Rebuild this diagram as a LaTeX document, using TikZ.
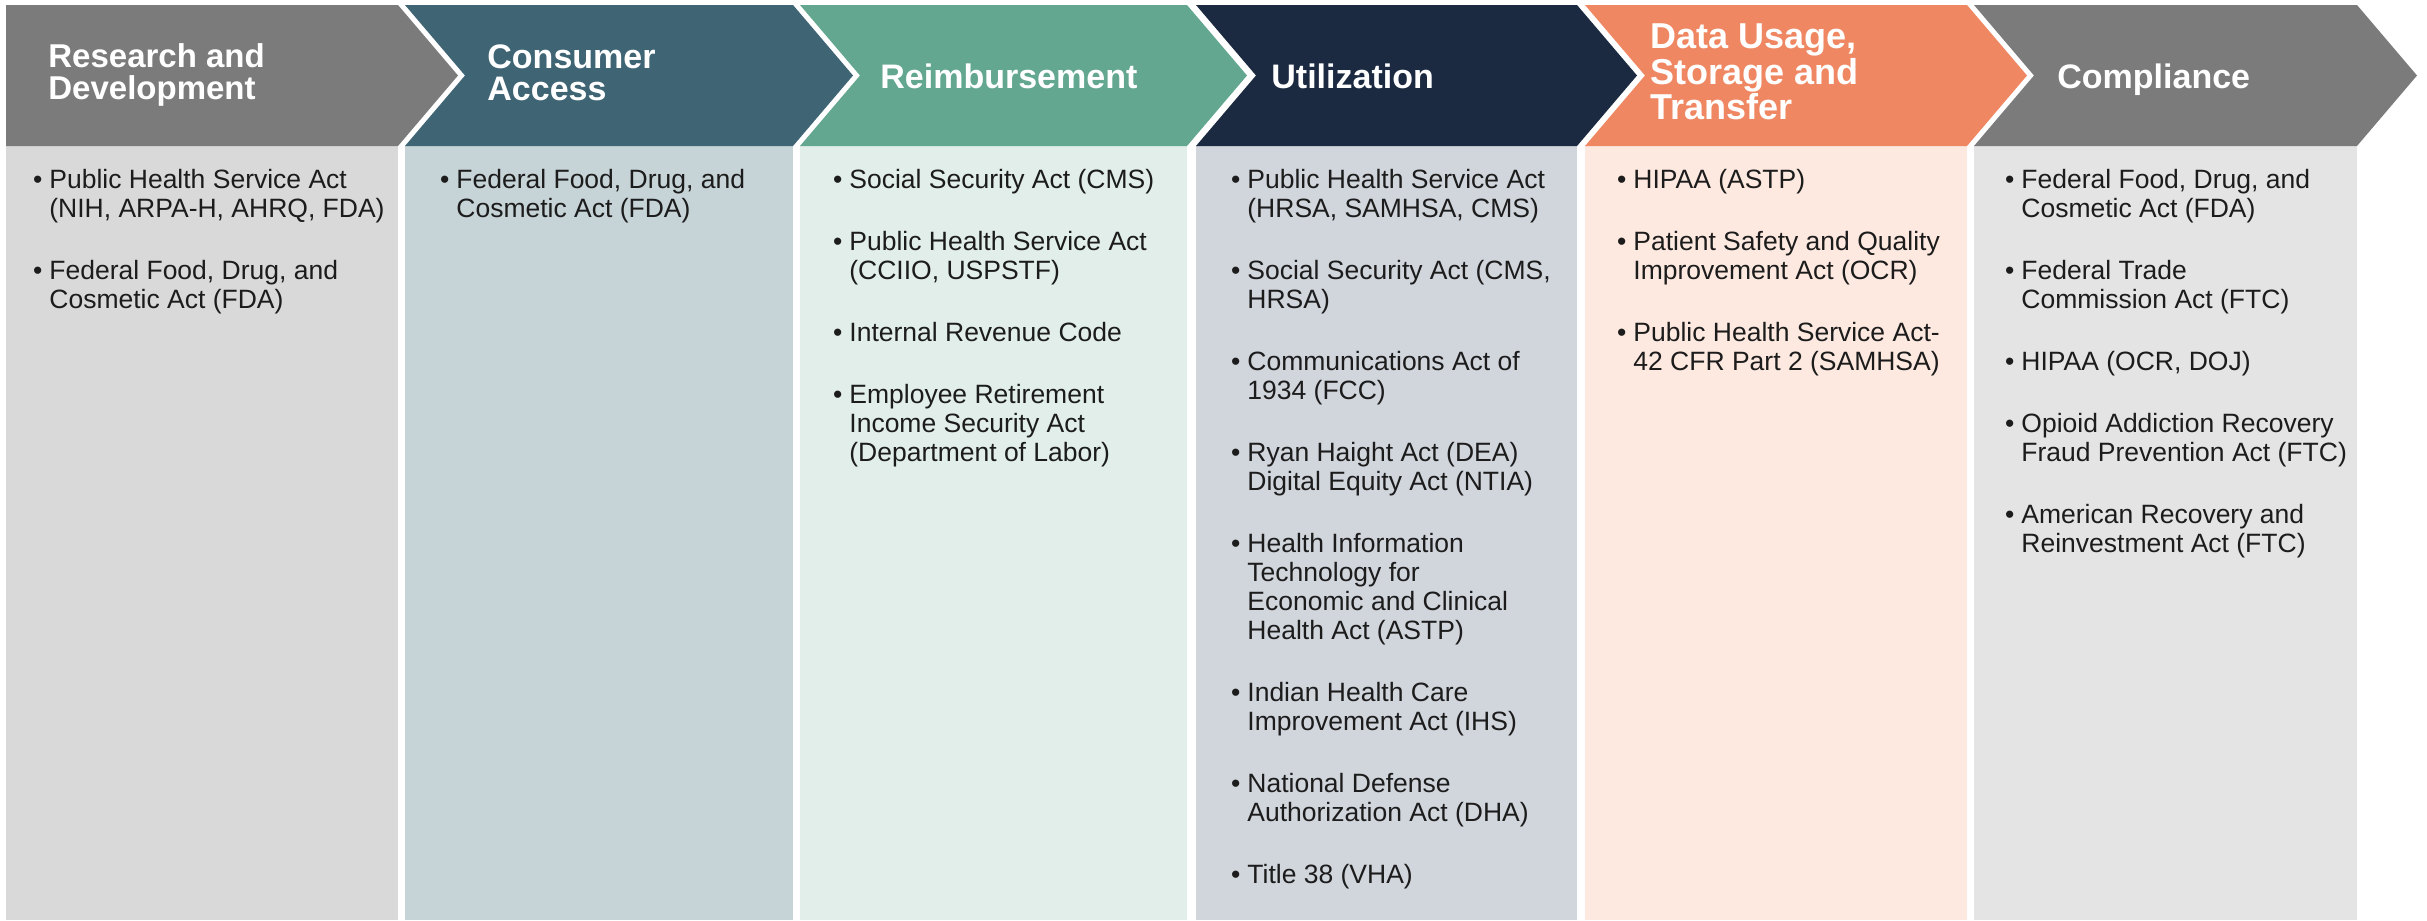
\documentclass[tikz,border=0pt]{standalone}
\usepackage{fontspec}
\setmainfont{Liberation Sans}
\definecolor{hgray}{HTML}{7B7B7B}
\definecolor{bgray}{HTML}{D9D9D9}
\definecolor{hteal}{HTML}{3F6575}
\definecolor{bteal}{HTML}{C6D3D7}
\definecolor{hgreen}{HTML}{64A791}
\definecolor{bgreen}{HTML}{E1EEE9}
\definecolor{hnavy}{HTML}{1B2A41}
\definecolor{bnavy}{HTML}{D1D5DC}
\definecolor{hsalmon}{HTML}{EF8762}
\definecolor{bsalmon}{HTML}{FDE9E0}
\definecolor{bgray2}{HTML}{E4E4E4}
\definecolor{txt}{HTML}{1C1C1C}
\newcommand\bodyfnt{\fontsize{13.25}{14.5}\selectfont}
\newcommand\hdrfnt{\fontsize{17}{16}\selectfont\bfseries}
\newcommand\bul{\rule{0pt}{10pt}\llap{\textbullet\hspace{3.5pt}}}
\newcommand\hst{\rule{0pt}{14pt}}
\tikzset{
  itm/.style={anchor=north west, inner sep=0pt, align=left, font=\bodyfnt, text=txt},
  hdr/.style={anchor=north west, inner sep=0pt, align=left, font=\hdrfnt, text=white}
}
\begin{document}
\begin{tikzpicture}[x=0.5pt,y=-0.5pt]
\useasboundingbox (0,0) rectangle (2427,921);
% body columns
\fill[bgray]   (6,146)    rectangle (398,920);
\fill[bteal]   (405,146)  rectangle (793,920);
\fill[bgreen]  (800,146)  rectangle (1187,920);
\fill[bnavy]   (1196,146) rectangle (1577,920);
\fill[bsalmon] (1585,146) rectangle (1967,920);
\fill[bgray2]  (1974,146) rectangle (2357,920);
% header chevrons
\fill[hgray]   (6,5) -- (398,5) -- (458,75.5) -- (398,146) -- (6,146) -- cycle;
\fill[hteal]   (405,5) -- (793,5) -- (853,75.5) -- (793,146) -- (405,146) -- (465,75.5) -- cycle;
\fill[hgreen]  (800,5) -- (1187,5) -- (1247,75.5) -- (1187,146) -- (800,146) -- (860,75.5) -- cycle;
\fill[hnavy]   (1196,5) -- (1577,5) -- (1637,75.5) -- (1577,146) -- (1196,146) -- (1256,75.5) -- cycle;
\fill[hsalmon] (1585,5) -- (1967,5) -- (2027,75.5) -- (1967,146) -- (1585,146) -- (1645,75.5) -- cycle;
\fill[hgray]   (1974,5) -- (2357,5) -- (2417,75.5) -- (2357,146) -- (1974,146) -- (2034,75.5) -- cycle;
% header titles
\node[hdr, font=\fontsize{16.5}{16}\selectfont\bfseries] (h1) at (48,39) {\hst Research and\\Development};
\node[hdr] (h2) at (487,40)  {\hst Consumer\\Access};
\node[hdr] (h3) at (880,60)  {\hst Reimbursement};
\node[hdr] (h4) at (1271,60) {\hst Utilization};
\node[hdr, font=\fontsize{18}{16.5}\selectfont\bfseries] (h5) at (1650,20) {\hst Data Usage,\\Storage and\\Transfer};
\node[hdr] (h6) at (2057,60) {\hst Compliance};
% column 1
\node[itm] (a1) at (49,168) {\bul Public Health Service Act\\(NIH, ARPA-H, AHRQ, FDA)};
\node[itm] (a2) at (49,259) {\bul Federal Food, Drug, and\\Cosmetic Act (FDA)};
% column 2
\node[itm] (b1) at (456,168) {\bul Federal Food, Drug, and\\Cosmetic Act (FDA)};
% column 3
\node[itm] (c1) at (849,168) {\bul Social Security Act (CMS)};
\node[itm] (c2) at (849,230) {\bul Public Health Service Act\\(CCIIO, USPSTF)};
\node[itm] (c3) at (849,321) {\bul Internal Revenue Code};
\node[itm] (c4) at (849,383) {\bul Employee Retirement\\Income Security Act\\(Department of Labor)};
% column 4
\node[itm] (d1) at (1247,168) {\bul Public Health Service Act\\(HRSA, SAMHSA, CMS)};
\node[itm] (d2) at (1247,259) {\bul Social Security Act (CMS,\\HRSA)};
\node[itm] (d3) at (1247,350) {\bul Communications Act of\\1934 (FCC)};
\node[itm] (d4) at (1247,441) {\bul Ryan Haight Act (DEA)\\Digital Equity Act (NTIA)};
\node[itm] (d5) at (1247,532) {\bul Health Information\\Technology for\\Economic and Clinical\\Health Act (ASTP)};
\node[itm] (d6) at (1247,681) {\bul Indian Health Care\\Improvement Act (IHS)};
\node[itm] (d7) at (1247,772) {\bul National Defense\\Authorization Act (DHA)};
\node[itm] (d8) at (1247,863) {\bul Title 38 (VHA)};
% column 5
\node[itm] (e1) at (1633,168) {\bul HIPAA (ASTP)};
\node[itm] (e2) at (1633,230) {\bul Patient Safety and Quality\\Improvement Act (OCR)};
\node[itm] (e3) at (1633,321) {\bul Public Health Service Act-\\42 CFR Part 2 (SAMHSA)};
% column 6
\node[itm] (f1) at (2021,168) {\bul Federal Food, Drug, and\\Cosmetic Act (FDA)};
\node[itm] (f2) at (2021,259) {\bul Federal Trade\\Commission Act (FTC)};
\node[itm] (f3) at (2021,350) {\bul HIPAA (OCR, DOJ)};
\node[itm] (f4) at (2021,412) {\bul Opioid Addiction Recovery\\Fraud Prevention Act (FTC)};
\node[itm] (f5) at (2021,503) {\bul American Recovery and\\Reinvestment Act (FTC)};
\end{tikzpicture}
\end{document}
